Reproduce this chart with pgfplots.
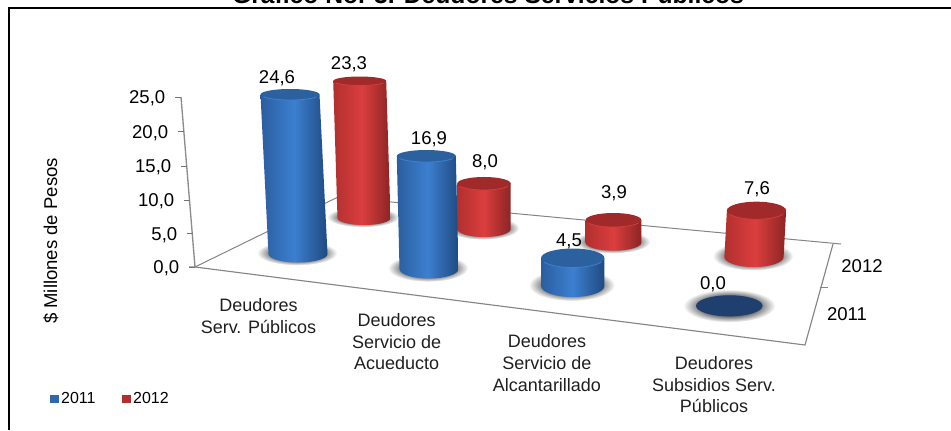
\documentclass[border=0pt]{standalone}
\usepackage{pgfplots}
\usepackage{fontspec}
\setmainfont{Liberation Sans}
\pgfplotsset{compat=1.18}
\definecolor{bluL}{HTML}{2B5E9F}\definecolor{bluM}{HTML}{3C7FD0}\definecolor{bluR}{HTML}{1F4A80}\definecolor{bluT}{HTML}{2C619F}\definecolor{bluS}{HTML}{3F80CF}
\definecolor{redL}{HTML}{B32F2F}\definecolor{redM}{HTML}{DB3E3E}\definecolor{redR}{HTML}{8C2424}\definecolor{redT}{HTML}{A02A2A}\definecolor{redS}{HTML}{D43C3C}
\definecolor{navy}{HTML}{1F3F6F}
\pgfdeclareradialshading{cylshadow}{\pgfpoint{0bp}{0bp}}{color(0bp)=(black!62);color(15bp)=(black!62);color(25bp)=(white);color(50bp)=(white)}
\newcommand\drawcyl[5]{%
  \begin{scope}[x=0.75pt,y=0.75pt]
  \shade[draw=none,shading=cylshadow] (-1,1) ellipse [x radius=\cR*1.36, y radius=\cB*1.45];
  \shade[draw=none,left color=#1,right color=#3,middle color=#2]
    (-\cR,0) arc[start angle=180,end angle=360,x radius=\cR,y radius=\cB]
    -- ({\cD+\cR},\cH) -- ({\cD-\cR},\cH) -- cycle;
  \fill[draw=none,#4] (\cD,\cH) ellipse [x radius=\cR, y radius=\cT];
  \draw[#5,fill=none,line width=0.6pt] ({\cD-\cR*0.9},{\cH-\cT*0.44}) arc[start angle=206,end angle=334,x radius=\cR,y radius=\cT];
  \end{scope}}
\pgfdeclareplotmark{cylblue}{\drawcyl{bluL}{bluM}{bluR}{bluT}{bluS}}
\pgfdeclareplotmark{cylred}{\drawcyl{redL}{redM}{redR}{redT}{redS}}
\pgfdeclareplotmark{cylflat}{%
  \begin{scope}[x=0.75pt,y=0.75pt]
  \shade[draw=none,shading=cylshadow] (0,0) ellipse [x radius=46, y radius=16.5];
  \fill[draw=none,navy,rotate=-6] (0,0) ellipse [x radius=33.3, y radius=10.5];
  \end{scope}}
\pgfplotsset{cyl/.style={scatter,only marks,
  visualization depends on={\thisrow{k}*\thisrow{v} \as \cH},
  visualization depends on={value \thisrow{dx} \as \cD},
  visualization depends on={value \thisrow{rx} \as \cR},
  visualization depends on={value \thisrow{rt} \as \cT},
  visualization depends on={value \thisrow{rb} \as \cB}}}
\begin{document}
\begin{tikzpicture}
\useasboundingbox (0,0) rectangle (713.25pt,322.5pt);
\clip (0,0) rectangle (713.25pt,322.5pt);
\begin{axis}[
  at={(0,0)},anchor=south west,scale only axis,width=713.25pt,height=322.5pt,
  xmin=0,xmax=951,ymin=0,ymax=430,y dir=reverse,axis lines=none,clip=false,
  /pgf/number format/.cd,fixed,fixed zerofill,precision=1,use comma,assume math mode=true,
  /pgfplots/.cd,
  legend style={at={(axis cs:50,399)},anchor=west,draw=none,fill=none,legend columns=2,
    font=\fontsize{12pt}{14pt}\selectfont,inner sep=0pt,
    /tikz/column 2/.style={column sep=18pt}},
  legend image code/.code={\fill[draw=none,#1] (0pt,-3.2pt) rectangle (6.2pt,3.2pt);},
]
\addlegendimage{fill=bluL!70!bluM}\addlegendentry{2011}
\addlegendimage{fill=redL}\addlegendentry{2012}
% frame
\addplot[black,line width=1pt,mark=none,forget plot] coordinates {(9,430)(9,8)(951,8)};
% floor and walls
\addplot[black!48,line width=0.75pt,mark=none,forget plot] coordinates {(195,267)(338,197)(841,244)};
\addplot[black!48,line width=0.85pt,mark=none,forget plot] coordinates {(189,267)(195,267)(805,345)(833,244)};
\addplot[black!45,line width=1pt,mark=none,forget plot] coordinates {(181,97)(195,267)};
\addplot[black!48,line width=0.75pt,mark=none,forget plot] coordinates {(820,287)(828,287)};
% value-axis ticks with their numbers
\addplot[only marks,mark=-,mark size=2.25pt,mark options={black!55,line width=0.75pt},forget plot,
  point meta=\thisrow{v},nodes near coords,
  every node near coord/.style={anchor=east,xshift=-9.2pt,yshift=-1pt,inner sep=0pt,text=black,font=\fontsize{13.9pt}{16pt}\selectfont}]
 table {
x y v
178 97 25
181 131.5 20
184 166 15
187 200 10
190 233.5 5
192 267 0
};
% 2012
\addplot[cyl,mark=cylred,forget plot] table {
x y v k dx rx rt rb
364 218 23.3 5.88 -4.3 26.5 4.5 7
484 229 8.0 5.69 0 26.7 6.5 8
613.5 242.7 3.9 5.82 0 27.8 7 8
754 257 7.6 6.12 2.5 29.6 8.8 10
};
% 2011
\addplot[cyl,mark=cylblue,forget plot] table {
x y v k dx rx rt rb
298 254 24.6 6.484 -8 29.5 5.5 8.5
429 269 16.9 6.686 -2.7 29.5 6 9.5
572.7 286 4.5 6.22 0 31.7 9.5 11
};
\addplot[scatter,only marks,mark=cylflat,forget plot] table {
x y v
729.3 305.8 0.0
};
% value labels
\addplot[draw=none,mark=none,forget plot,point meta=\thisrow{v},nodes near coords,
  every node near coord/.style={anchor=center,yshift=-0.8pt,inner sep=0pt,text=black,font=\fontsize{13.9pt}{16pt}\selectfont}]
 table {
x y v
277 77 24.6
349 63 23.3
429 138 16.9
485 161 8.0
614 192 3.9
757 188 7.6
569 240 4.5
713 283 0.0
};
\tikzset{cat/.style={align=center,inner sep=0pt,text=black!88,font=\fontsize{13.5pt}{16.3pt}\selectfont}}
\node[cat,anchor=north] at (axis cs:258.5,298) {Deudores\\Serv. Públicos};
\node[cat,anchor=north] at (axis cs:396.7,313) {Deudores\\Servicio de\\Acueducto};
\node[cat,anchor=north] at (axis cs:547,334.3) {Deudores\\Servicio de\\Alcantarillado};
\node[cat,anchor=north] at (axis cs:714,356) {Deudores\\Subsidios Serv.\\Públicos};
\node[inner sep=0pt,font=\fontsize{13.9pt}{16pt}\selectfont] at (axis cs:862,265.7) {2012};
\node[inner sep=0pt,font=\fontsize{13.9pt}{16pt}\selectfont] at (axis cs:847,314) {2011};
\node[inner sep=0pt,rotate=90,font=\fontsize{13.9pt}{16pt}\selectfont] at (axis cs:51,241) {\$ Millones de Pesos};
\node[inner sep=0pt,anchor=base,font=\bfseries\fontsize{18.5pt}{21pt}\selectfont] at (axis cs:488,3.5) {Gráfico No. 3. Deudores Servicios Públicos};
\end{axis}
\end{tikzpicture}
\end{document}
